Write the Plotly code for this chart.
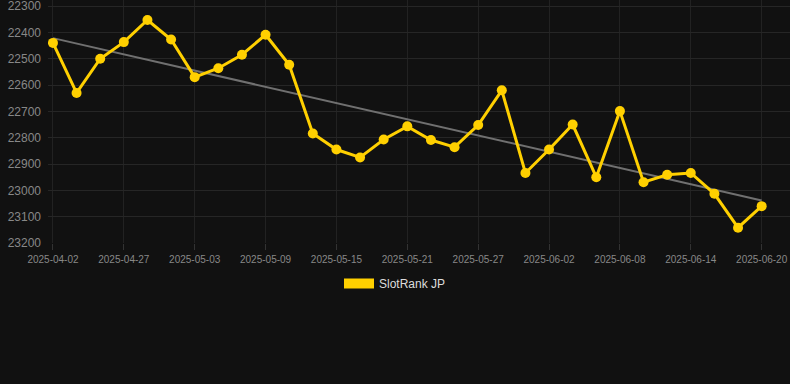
import numpy as np
import plotly.graph_objects as go

dates = [
    "2025-04-02", "2025-04-23", "2025-04-25", "2025-04-27", "2025-04-29", "2025-05-01",
    "2025-05-03", "2025-05-05", "2025-05-07", "2025-05-09", "2025-05-11", "2025-05-13",
    "2025-05-15", "2025-05-17", "2025-05-19", "2025-05-21", "2025-05-23", "2025-05-25",
    "2025-05-27", "2025-05-29", "2025-05-31", "2025-06-02", "2025-06-04", "2025-06-06",
    "2025-06-08", "2025-06-10", "2025-06-12", "2025-06-14", "2025-06-16", "2025-06-18",
    "2025-06-20",
]
ranks = [
    22440, 22630, 22500, 22437, 22353, 22427, 22570, 22536, 22485, 22409, 22523,
    22784, 22845, 22875, 22807, 22757, 22809, 22836, 22752, 22620, 22934, 22845,
    22750, 22950, 22699, 22969, 22941, 22934, 23013, 23142, 23060,
]
tick_labels = dates[::3]
y_ticks = [22300, 22400, 22500, 22600, 22700, 22800, 22900, 23000, 23100, 23200]

idx = np.arange(len(ranks))
slope, intercept = np.polyfit(idx, ranks, 1)
trend = slope * idx + intercept

gold = "#FFD000"
fig = go.Figure()
fig.add_trace(go.Scatter(
    x=dates, y=trend, mode="lines",
    line=dict(color="#707070", width=2), showlegend=False, hoverinfo="skip",
))
fig.add_trace(go.Scatter(
    x=dates, y=ranks, mode="lines+markers",
    line=dict(color=gold, width=3), marker=dict(color=gold, size=10),
    showlegend=False, name="SlotRank JP",
))
fig.add_trace(go.Scatter(
    x=[None], y=[None], mode="lines", name="SlotRank JP",
    line=dict(color=gold, width=12),
))

fig.update_layout(
    width=790, height=384,
    paper_bgcolor="#111111", plot_bgcolor="#111111",
    margin=dict(l=48, r=0, t=0, b=141, autoexpand=False),
    font=dict(family="Liberation Sans, Arial, sans-serif", color="#888888", size=11),
    legend=dict(
        orientation="h", xref="container", x=0.5, xanchor="center",
        y=-0.107, yanchor="top",
        font=dict(color="#dddddd", size=12), bgcolor="rgba(0,0,0,0)",
    ),
    xaxis=dict(
        type="category", categoryorder="array", categoryarray=dates,
        range=[-0.21, 31.2], automargin=False,
        tickmode="array", tickvals=tick_labels, ticktext=tick_labels,
        showgrid=True, gridcolor="#222222", gridwidth=1,
        showline=False, zeroline=False,
        ticks="outside", ticklen=6, tickcolor="#333333",
        tickfont=dict(size=10, color="#888888"),
        ticklabelstandoff=1,
    ),
    yaxis=dict(
        range=[23200, 22277], automargin=False,
        tickmode="array", tickvals=y_ticks, ticktext=[str(v) for v in y_ticks],
        showgrid=True, gridcolor="#262626", gridwidth=1,
        zeroline=False, showline=False,
        ticks="", tickfont=dict(size=12, color="#888888"),
        ticklabelstandoff=6, ticklabeloverflow="allow",
    ),
)

fig.write_html(
    "out.html",
    config={"displayModeBar": False},
    post_script="document.body.style.margin='0';document.body.style.background='#111111';document.body.style.overflow='hidden';",
)
